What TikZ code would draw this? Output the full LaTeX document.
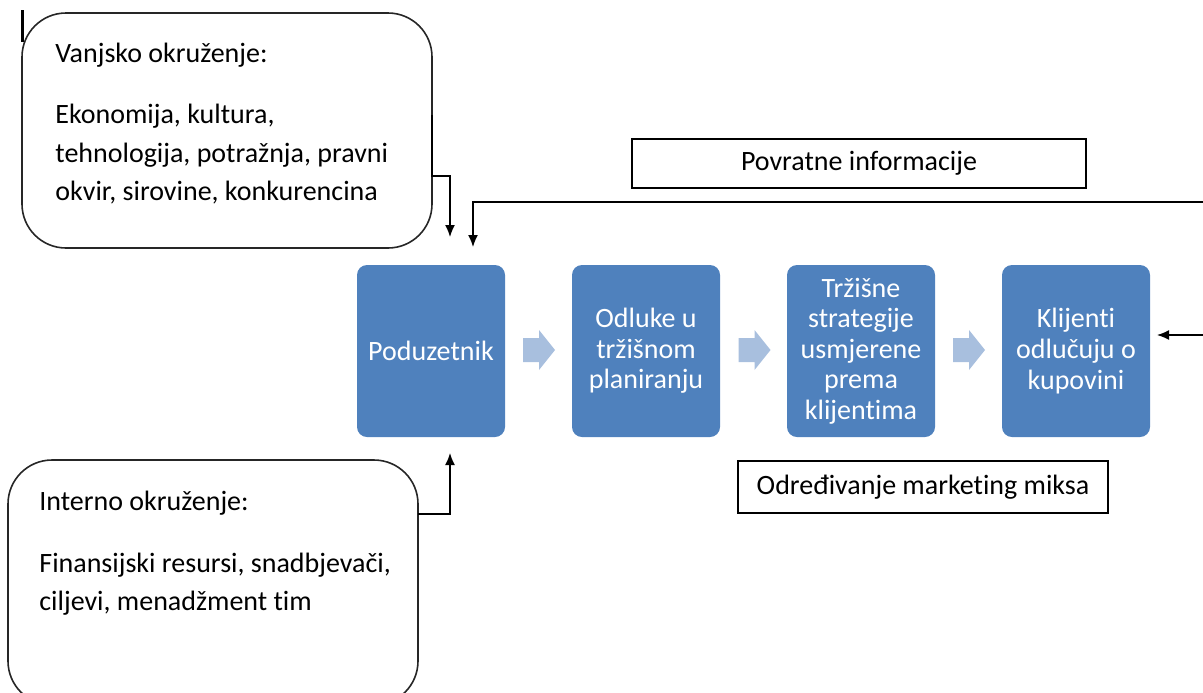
\documentclass[tikz,border=0pt]{standalone}
\usepackage{fontspec}
\setmainfont[Ligatures=NoCommon]{Carlito}
\usetikzlibrary{arrows.meta}
\definecolor{stepblue}{HTML}{4F81BD}
\definecolor{chevron}{HTML}{A8BFDE}
\begin{document}
\begin{tikzpicture}[x=0.5pt,y=-0.5pt,
  envbox/.style={draw=black!85, line width=0.8pt, rounded corners=22pt, inner sep=0pt},
  stepbox/.style={fill=stepblue, rounded corners=5pt, minimum width=74pt, minimum height=86pt,
    text=white, align=center, inner sep=0pt, font=\fontsize{14}{15.3}\selectfont},
  labelbox/.style={draw, line width=0.7pt, inner sep=0pt, font=\fontsize{14}{17}\selectfont},
  envtext/.style={anchor=base west, inner sep=0pt, font=\fontsize{14}{17}\selectfont},
  chev/.style={fill=chevron},
  link/.style={line width=0.75pt, -{Latex[length=6pt,width=5pt]}}
]
\useasboundingbox (0,0) rectangle (1203,692);

% external environment
\node[envbox, minimum width=205pt, minimum height=117.5pt] (ext) at (227,130.5) {};
\draw[line width=1.5pt] (22.5,10) -- (22.5,42);
\node[envtext] (extT) at (55,62) {Vanjsko okruženje:};
\node[envtext] (ext1) at (55,123) {Ekonomija, kultura,};
\node[envtext] (ext2) at (55,162) {tehnologija, potražnja, pravni};
\node[envtext] (ext3) at (55,200) {okvir, sirovine, konkurencina};

% internal environment
\node[envbox, minimum width=205pt, minimum height=122.5pt] (int) at (213,582.5) {};
\node[envtext] (intT) at (39,510) {Interno okruženje:};
\node[envtext] (int1) at (39,572) {Finansijski resursi, snadbjevači,};
\node[envtext] (int2) at (39,610) {ciljevi, menadžment tim};

% process steps
\node[stepbox] (s1) at (431,351) {Poduzetnik};
\node[stepbox] (s2) at (646,351) {Odluke u\\tržišnom\\planiranju};
\node[stepbox] (s3) at (861,351) {Tržišne\\strategije\\usmjerene\\prema\\klijentima};
\node[stepbox] (s4) at (1076,351) {Klijenti\\odlučuju o\\kupovini};

% block arrows between the steps
\coordinate (c1) at (539,350);
\coordinate (c2) at (754.5,350);
\coordinate (c3) at (969,350);
\foreach \c in {c1,c2,c3}
  \fill[chev] (\c) ++(-16,-12) -- ++(16,0) -- ++(0,-8) -- ++(16,20)
    -- ++(-16,20) -- ++(0,-8) -- ++(-16,0) -- cycle;

% labels
\node[labelbox, minimum width=227pt, minimum height=24.5pt] (fb) at (859,163.5) {Povratne informacije};
\node[labelbox, minimum width=185pt, minimum height=26pt] (mix) at (923,487) {Određivanje marketing miksa};

% connectors
\coordinate (extout) at (432,115);
\coordinate (extin) at (450,237);
\coordinate (intout) at (418,514);
\coordinate (intin) at (450,453);
\coordinate (fbstart) at (1203,202);
\coordinate (fbin) at (473,247);
\coordinate (rstart) at (1203,335);
\coordinate (rin) at (1157,335);

\draw[link] (extout) -- (432,176) -| (extin);
\draw[link] (intout) -| (intin);
\draw[link] (fbstart) -| (fbin);
\draw[link] (rstart) -- (rin);
\end{tikzpicture}
\end{document}
